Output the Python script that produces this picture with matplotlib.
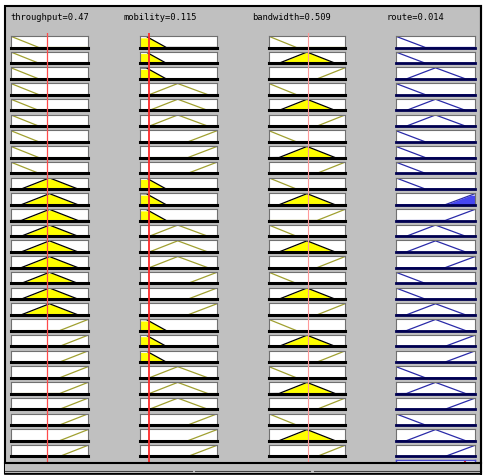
import numpy as np
import matplotlib
matplotlib.use("Agg")
import matplotlib.pyplot as plt
from matplotlib.patches import Rectangle

# fuzzy system
input_names = ["throughput", "mobility", "bandwidth"]
input_values = [0.47, 0.115, 0.509]
output_name = "route"
output_label_value = 0.014

# trapezoid membership functions (a, b, c, d) for low / medium / high
throughput_mfs = [(-1, -0.5, 0.0, 0.36), (0.13, 0.5, 0.5, 0.87), (0.63, 1.0, 1.5, 2)]
mobility_mfs = [(-1, -0.5, 0.08, 0.34), (0.12, 0.49, 0.49, 0.88), (0.62, 1.0, 1.5, 2)]
bandwidth_mfs = [(-1, -0.5, 0.0, 0.36), (0.13, 0.5, 0.5, 0.87), (0.63, 1.0, 1.5, 2)]
route_mfs = [(-1, -0.5, 0.0, 0.37), (0.13, 0.5, 0.5, 0.88), (0.62, 1.0, 1.5, 2)]
input_mfs = [throughput_mfs, mobility_mfs, bandwidth_mfs]

# rule base: mf index per input (0=low,1=medium,2=high) and output
rule_throughput = [0]*9 + [1]*9 + [2]*9
rule_mobility = [0, 0, 0, 1, 1, 1, 2, 2, 2] * 3
rule_bandwidth = [0, 1, 2] * 9
rule_route = [0, 0, 1, 0, 1, 1, 0, 0, 0,
              0, 2, 2, 1, 1, 2, 0, 0, 1,
              1, 2, 2, 0, 1, 2, 0, 1, 2]


def trapmf(x, p):
    a, b, c, d = p
    x = np.asarray(x, dtype=float)
    up = (x - a) / (b - a) if b > a else np.ones_like(x)
    down = (d - x) / (d - c) if d > c else np.ones_like(x)
    return np.clip(np.minimum(np.minimum(up, down), 1), 0, 1)


W, H = 487, 475
fig = plt.figure(figsize=(W / 100, H / 100), dpi=100)
fig.patch.set_facecolor("white")


def px_box(x0, y0, w, h):
    return [x0 / W, 1 - (y0 + h) / H, w / W, h / H]


# background panel
bg = fig.add_axes([0, 0, 1, 1], zorder=0)
bg.set_xlim(0, W)
bg.set_ylim(H, 0)
bg.axis("off")
bg.add_patch(Rectangle((5, 6), 476, 467, facecolor="#c0c0c0", edgecolor="black", lw=1.5))

col_x = [(11, 77), (140, 77), (269, 76), (396, 79)]
top0, pitch, box_h = 36, 15.73, 11.5
title_x = [10, 124, 252, 387]

x = np.linspace(0, 1, 401)
rules = list(zip(rule_throughput, rule_mobility, rule_bandwidth, rule_route))
n_rules = len(rules)

aggregate = np.zeros_like(x)
for i, rule in enumerate(rules):
    degrees = [float(trapmf(input_values[k], input_mfs[k][rule[k]])) for k in range(3)]
    firing = min(degrees)
    for j in range(4):
        cx, cw = col_x[j]
        ax = fig.add_axes(px_box(cx, top0 + i * pitch, cw, box_h), zorder=1)
        ax.set_xlim(0, 1)
        ax.set_ylim(0, 1.03)
        ax.set_facecolor("white")
        ax.set_xticks([])
        ax.set_yticks([])
        for s in ["top", "left", "right"]:
            ax.spines[s].set_color("#707070")
            ax.spines[s].set_linewidth(0.8)
        if j < 3:
            mf = trapmf(x, input_mfs[j][rule[j]])
            deg = degrees[j]
            ax.spines["bottom"].set_color("black")
            ax.spines["bottom"].set_linewidth(2.2)
            if deg > 0:
                ax.fill_between(x, 0, np.minimum(mf, deg), color="#ffff00", lw=0)
                ax.plot(x, mf, color="black", lw=0.9)
            else:
                ax.plot(x, mf, color="#a0a030", lw=0.9)
        else:
            mf = trapmf(x, route_mfs[rule[3]])
            ax.spines["bottom"].set_color("#000050")
            ax.spines["bottom"].set_linewidth(2.0)
            if firing > 0:
                clipped = np.minimum(mf, firing)
                aggregate = np.maximum(aggregate, clipped)
                ax.fill_between(x, 0, clipped, color="#4646f0", lw=0)
            ax.plot(x, mf, color="#2a2aa8", lw=0.9)

# aggregated output row (mostly hidden under the bottom bar)
centroid = float(np.sum(x * aggregate) / np.sum(aggregate)) if aggregate.sum() > 0 else 0.5
cx, cw = col_x[3]
agg = fig.add_axes(px_box(cx, top0 + n_rules * pitch - 0.5, cw, 6), zorder=1)
agg.set_xlim(0, 1)
agg.set_ylim(0, 1)
agg.set_xticks([])
agg.set_yticks([])
for s in agg.spines.values():
    s.set_color("#4a4ad0")
    s.set_linewidth(1.0)
agg.axvline(centroid, color="#ff2020", lw=1.5)

# red input markers
red_styles = [("#ff4a4a", 0.9), ("#ff2a2a", 1.3), ("#ff9a9a", 0.8)]
for j in range(3):
    cx, cw = col_x[j]
    ov = fig.add_axes(px_box(cx, 33, cw, 430), zorder=3)
    ov.set_xlim(0, 1)
    ov.set_ylim(0, 1)
    ov.axis("off")
    ov.patch.set_alpha(0)
    ov.axvline(input_values[j], color=red_styles[j][0], lw=red_styles[j][1])

# titles
labels = ["%s=%g" % (n, v) for n, v in zip(input_names, input_values)]
labels.append("%s=%g" % (output_name, output_label_value))
for tx, lab in zip(title_x, labels):
    bg.text(tx, 17, lab, fontsize=6.3, family="DejaVu Sans Mono", va="center", ha="left")

# bottom strip
fr = fig.add_axes([0, 0, 1, 1], zorder=4)
fr.set_xlim(0, W)
fr.set_ylim(H, 0)
fr.axis("off")
fr.patch.set_alpha(0)
fr.add_patch(Rectangle((5, 463), 476, 10, facecolor="#c0c0c0", edgecolor="none"))
fr.plot([5, 481], [463, 463], color="black", lw=1.5)
fr.plot([5, 192], [471, 471], color="#404040", lw=0.8)
fr.plot([195, 310], [471, 471], color="#404040", lw=0.8)
fr.plot([314, 481], [471, 471], color="#404040", lw=0.8)
fr.plot([5, 481], [473.5, 473.5], color="black", lw=1.2)
fr.plot([481, 481], [6, 473.5], color="black", lw=1.5)

fig.savefig("out.png", dpi=100, facecolor=fig.get_facecolor())
